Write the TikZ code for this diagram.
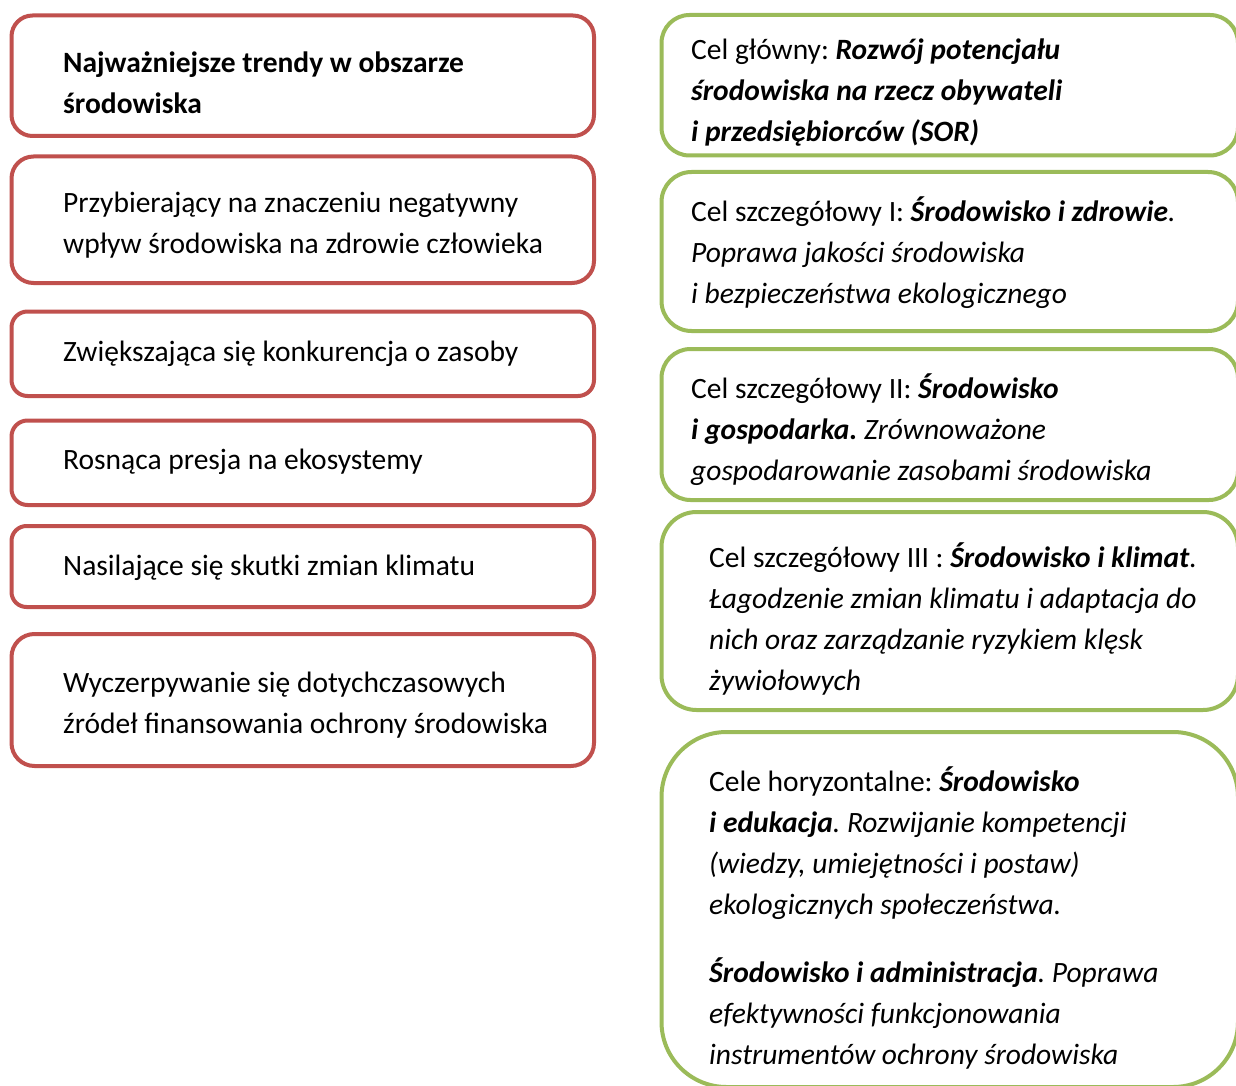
\documentclass[tikz,border=0pt]{standalone}
\usepackage{fontspec}
\setmainfont{Carlito}
\usepackage{xcolor}
\definecolor{trendred}{HTML}{C0504D}
\definecolor{goalgreen}{HTML}{9BBB59}
\newcommand{\goalem}[1]{\textbf{\textit{#1}}}
\frenchspacing

\begin{document}
\begin{tikzpicture}[x=1pt, y=-1pt,
                    trendbox/.style={draw=trendred, line width=4pt, rounded corners=#1,
                                     minimum width=582.5pt, inner sep=0pt},
                    goalbox/.style={draw=goalgreen, line width=4pt, rounded corners=#1,
                                    minimum width=576.5pt, inner sep=0pt},
                    boxtext/.style={anchor=west, align=left, inner sep=0pt,
                                    font=\fontsize{29.5}{41}\selectfont}]
  \useasboundingbox (0,0) rectangle (1236,1086);
  \fill[white] (0,0) rectangle (1236,1086);
  \clip (0,0) rectangle (1236,1086);

  \node[trendbox=21pt, minimum height=120.5pt] (trend1) at (302.75,75.75) {};
  \node[trendbox=22pt, minimum height=126.5pt] (trend2) at (302.75,219.75) {};
  \node[trendbox=16pt, minimum height=84.5pt] (trend3) at (302.75,353.75) {};
  \node[trendbox=16pt, minimum height=84.5pt] (trend4) at (302.75,462.75) {};
  \node[trendbox=15pt, minimum height=81pt] (trend5) at (302.75,566.5) {};
  \node[trendbox=23pt, minimum height=132pt] (trend6) at (302.75,700) {};

  \node[boxtext] (trend1txt) at (63,82.5)
    {\textbf{Najważniejsze trendy w obszarze}\\\textbf{środowiska}};
  \node[boxtext] (trend2txt) at (63,225)
    {Przybierający na znaczeniu negatywny\\wpływ środowiska na zdrowie człowieka};
  \node[boxtext] (trend3txt) at (63,353.5) {Zwiększająca się konkurencja o zasoby};
  \node[boxtext] (trend4txt) at (63,461.5) {Rosnąca presja na ekosystemy};
  \node[boxtext] (trend5txt) at (63,567.5) {Nasilające się skutki zmian klimatu};
  \node[boxtext] (trend6txt) at (63,705)
    {Wyczerpywanie się dotychczasowych\\źródeł finansowania ochrony środowiska};

  \node[goalbox=28pt, minimum height=140.5pt] (goal1) at (949.75,85.25) {};
  \node[goalbox=30pt, minimum height=159pt] (goal2) at (949.75,251.5) {};
  \node[goalbox=29pt, minimum height=151pt] (goal3) at (949.75,424.5) {};
  \node[goalbox=35pt, minimum height=198pt] (goal4) at (949.75,611) {};
  \node[goalbox=65pt, minimum height=355pt] (goal5) at (949.75,909.5) {};

  \node[boxtext] (goal1txt) at (691,93)
    {Cel główny: \goalem{Rozwój potencjału}\\
     \goalem{środowiska na rzecz obywateli}\\
     \goalem{i przedsiębiorców (SOR)}};
  \node[boxtext] (goal2txt) at (691,252.5)
    {Cel szczegółowy I: \goalem{Środowisko i zdrowie}\textit{.}\\
     \textit{Poprawa jakości środowiska}\\
     \textit{i bezpieczeństwa ekologicznego}};
  \node[boxtext] (goal3txt) at (691,430)
    {Cel szczegółowy II: \goalem{Środowisko}\\
     \goalem{i gospodarka.} \textit{Zrównoważone}\\
     \textit{gospodarowanie zasobami środowiska}};
  \node[boxtext] (goal4txt) at (709,618.5)
    {Cel szczegółowy III : \goalem{Środowisko i klimat}\textit{.}\\
     \textit{Łagodzenie zmian klimatu i adaptacja do}\\
     \textit{nich oraz zarządzanie ryzykiem klęsk}\\
     \textit{żywiołowych}};
  \node[boxtext] (goal5txt) at (709,917.5)
    {Cele horyzontalne: \goalem{Środowisko}\\
     \goalem{i edukacja}\textit{. Rozwijanie kompetencji}\\
     \textit{(wiedzy, umiejętności i postaw)}\\
     \textit{ekologicznych społeczeństwa.}\\[27pt]
     \goalem{Środowisko i administracja}\textit{. Poprawa}\\
     \textit{efektywności funkcjonowania}\\
     \textit{instrumentów ochrony środowiska}};
\end{tikzpicture}
\end{document}
